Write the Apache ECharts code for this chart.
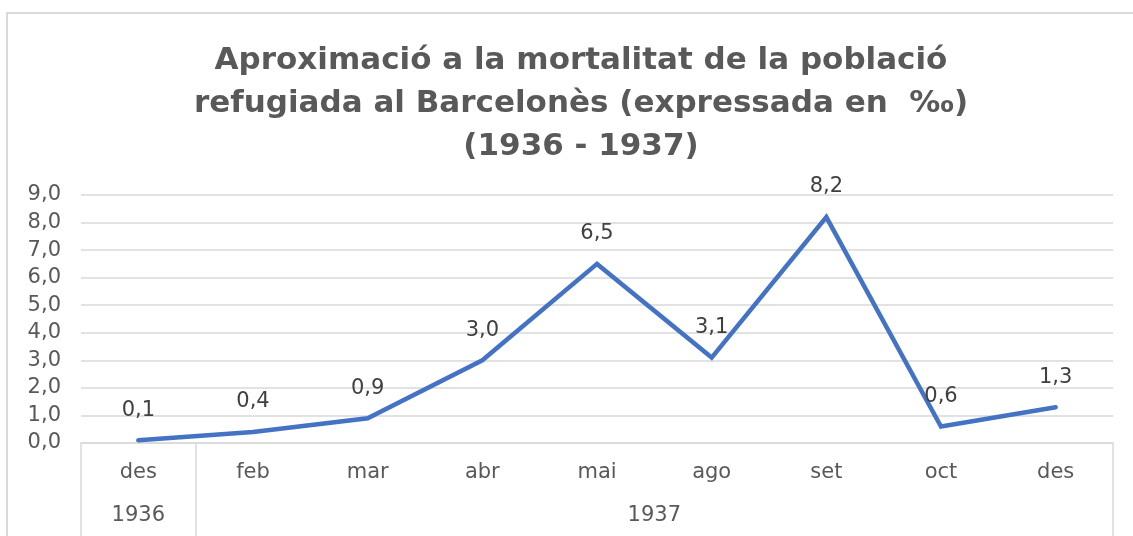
<!DOCTYPE html>
<html>
<head>
<meta charset="utf-8">
<script src="https://cdn.jsdelivr.net/npm/echarts@6/dist/echarts.min.js"></script>
<style>
html,body{margin:0;padding:0;background:#fff;}
#chart{width:1133px;height:536px;}
</style>
</head>
<body>
<div id="chart"></div>
<script>
const titleText = "Aproximació a la mortalitat de la població\nrefugiada al Barcelonès (expressada en  ‰)\n(1936 - 1937)";
const months = ["des", "feb", "mar", "abr", "mai", "ago", "set", "oct", "des"];
const values = [0.1, 0.4, 0.9, 3.0, 6.5, 3.1, 8.2, 0.6, 1.3];
const years = ["1936", "1937"];
const yearSpans = [1, 8];
const yTicks = [0, 1, 2, 3, 4, 5, 6, 7, 8, 9];

const boundaries = [0];
const yearCenters = [];
yearSpans.forEach(function (n) {
  const start = boundaries[boundaries.length - 1];
  yearCenters.push(start + n / 2);
  boundaries.push(start + n);
});

const fmt = function (v) { return Number(v).toFixed(1).replace('.', ','); };
const font = "'DejaVu Sans', 'Liberation Sans', Arial, sans-serif";
const grey = '#d9d9d9';

const chart = echarts.init(document.getElementById('chart'), null, {renderer: 'canvas'});
chart.setOption({
  animation: false,
  backgroundColor: '#fff',
  textStyle: {fontFamily: font},
  graphic: [{
    type: 'rect', silent: true, z: -1,
    shape: {x: 7, y: 13, width: 1150, height: 560},
    style: {fill: 'none', stroke: grey, lineWidth: 2}
  }],
  title: {
    text: titleText,
    left: 576,
    textAlign: 'center',
    top: 34,
    textStyle: {fontFamily: font, fontSize: 31, fontWeight: 'bold', color: '#595959', lineHeight: 43}
  },
  grid: {left: 81, right: 20, top: 195, bottom: 93, containLabel: false},
  xAxis: [{
    type: 'category',
    data: months,
    boundaryGap: true,
    axisLine: {show: true, lineStyle: {color: grey, width: 1.5}},
    axisTick: {show: false},
    axisLabel: {margin: 19, fontSize: 21, color: '#595959', fontFamily: font},
    splitLine: {show: false}
  }, {
    type: 'value',
    min: 0,
    max: months.length,
    position: 'bottom',
    axisLine: {show: false},
    axisTick: {show: true, customValues: boundaries, length: 95, lineStyle: {color: grey, width: 1.5}},
    axisLabel: {
      customValues: yearCenters,
      margin: 62,
      fontSize: 21, color: '#595959', fontFamily: font,
      formatter: function (v) {
        const i = yearCenters.indexOf(v);
        return i >= 0 ? years[i] : '';
      }
    },
    splitLine: {show: false}
  }],
  yAxis: {
    type: 'value',
    min: yTicks[0],
    max: yTicks[yTicks.length - 1],
    interval: 1,
    axisLine: {show: false},
    axisTick: {show: false},
    axisLabel: {margin: 20, fontSize: 21, color: '#595959', fontFamily: font, formatter: fmt},
    splitLine: {show: true, lineStyle: {color: grey, width: 1.5}}
  },
  series: [{
    type: 'line',
    xAxisIndex: 0,
    data: values,
    symbol: 'circle',
    symbolSize: 1,
    showSymbol: true,
    itemStyle: {color: 'rgba(0,0,0,0)'},
    lineStyle: {color: '#4472C4', width: 4.5, cap: 'round', join: 'miter'},
    label: {
      show: true, position: 'top', distance: 19,
      fontSize: 21, color: '#404040', fontFamily: font,
      formatter: function (p) { return fmt(p.value); }
    },
    labelLayout: {hideOverlap: false}
  }]
});
</script>
</body>
</html>
